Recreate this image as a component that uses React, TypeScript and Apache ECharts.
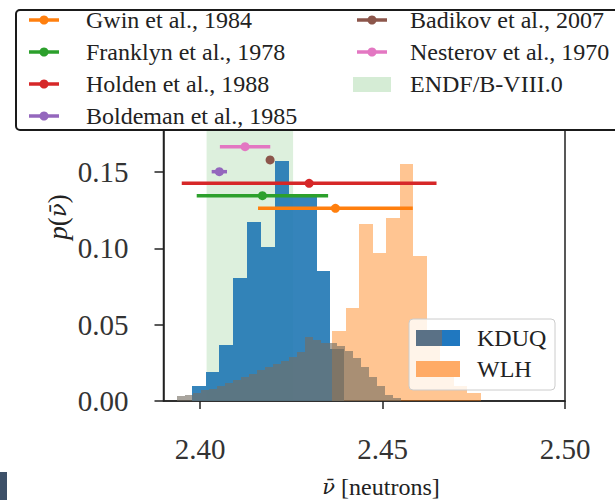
import React, { useEffect, useRef } from "react";
import * as echarts from "echarts";

// ---- axis ticks ----
const X_TICKS = [2.4, 2.45, 2.5];
const Y_TICKS = [0, 0.05, 0.1, 0.15];
const X_MIN = 2.39;
const X_MAX = 2.5;
const Y_MAX = 0.181;

// ---- KDUQ posterior histogram (blue) ----
const KDUQ_START = 2.39773;
const KDUQ_WIDTH = 0.0038;
const KDUQ_P = [0.0095, 0.019, 0.037, 0.0805, 0.1175, 0.101, 0.157, 0.135, 0.135, 0.085, 0.034];

// ---- WLH posterior histogram (orange) ----
const WLH_START = 2.4362;
const WLH_WIDTH = 0.0037;
const WLH_P = [0.046, 0.061, 0.116, 0.097, 0.12, 0.155, 0.095, 0.04, 0.02, 0.01, 0.005];

// ---- broad histogram (grey) ----
const BROAD_START = 2.3937;
const BROAD_WIDTH = 0.00219;
const BROAD_P = [
  0.003, 0.004, 0.005, 0.007, 0.008, 0.01, 0.012, 0.014, 0.016, 0.018, 0.02, 0.022, 0.024, 0.026,
  0.029, 0.032, 0.042, 0.04, 0.038, 0.038, 0.036, 0.033, 0.028, 0.022, 0.016, 0.01, 0.004, 0.002,
];

// ---- ENDF/B-VIII.0 band ----
const ENDF_RANGE = [2.4018, 2.4255];

// ---- experiments ----
const EXP_NAMES = [
  "Gwin et al., 1984",
  "Franklyn et al., 1978",
  "Holden et al., 1988",
  "Boldeman et al., 1985",
  "Badikov et al., 2007",
  "Nesterov et al., 1970",
];
const EXP_MEAN = [2.4371, 2.4171, 2.4299, 2.4053, 2.4192, 2.41235];
const EXP_ERR = [0.0212, 0.018, 0.0349, 0.0021, 0.0005, 0.0069];
const EXP_Y = [0.1262, 0.1345, 0.1426, 0.1502, 0.1579, 0.1666];
const EXP_COLORS = ["#ff7f0e", "#2ca02c", "#d62728", "#9467bd", "#8c564b", "#e377c2"];

const FONT = "Liberation Serif";
const MATH_FONT = "DejaVu Serif";

function histSeries(name: string, start: number, width: number, probs: number[], color: string, opacity: number, z: number) {
  return {
    type: "custom",
    name,
    z,
    clip: true,
    data: probs.map((p, i) => [start + i * width, start + (i + 1) * width, p]),
    encode: { x: [0, 1], y: 2 },
    renderItem: (params: any, api: any) => {
      const p0 = api.coord([api.value(0), api.value(2)]);
      const p1 = api.coord([api.value(1), 0]);
      const x0 = Math.round(p0[0]);
      const x1 = Math.round(p1[0]);
      const y0 = Math.round(p0[1]);
      const y1 = Math.round(p1[1]);
      return {
        type: "rect",
        shape: { x: x0, y: y0, width: x1 - x0, height: y1 - y0 },
        style: { fill: color, opacity },
      };
    },
  };
}

function expSeries(i: number) {
  return {
    type: "custom",
    name: EXP_NAMES[i],
    z: 10,
    data: [[EXP_MEAN[i], EXP_Y[i], EXP_ERR[i]]],
    encode: { x: 0, y: 1 },
    renderItem: (params: any, api: any) => {
      const m = api.value(0);
      const y = api.value(1);
      const e = api.value(2);
      const a = api.coord([m - e, y]);
      const b = api.coord([m + e, y]);
      const c = api.coord([m, y]);
      const color = EXP_COLORS[i];
      return {
        type: "group",
        children: [
          { type: "line", shape: { x1: a[0], y1: a[1], x2: b[0], y2: b[1] }, style: { stroke: color, lineWidth: 3.5 } },
          { type: "circle", shape: { cx: c[0], cy: c[1], r: 4.5 }, style: { fill: color } },
        ],
      };
    },
  };
}

function legendGraphics() {
  const els: any[] = [];
  els.push({
    type: "rect",
    z: 100,
    shape: { x: 16, y: 10, width: 620, height: 120, r: 4 },
    style: { fill: "#ffffff", stroke: "#1a1a1a", lineWidth: 2 },
  });
  const rowsY = [20, 52, 84, 116];
  const col = [
    { hx: 44, tx: 86 },
    { hx: 372, tx: 410 },
  ];
  EXP_NAMES.forEach((name, k) => {
    const c = k < 4 ? col[0] : col[1];
    const y = k < 4 ? rowsY[k] : rowsY[k - 4];
    els.push({ type: "line", z: 101, shape: { x1: c.hx - 15, y1: y, x2: c.hx + 15, y2: y }, style: { stroke: EXP_COLORS[k], lineWidth: 3.5 } });
    els.push({ type: "circle", z: 101, shape: { cx: c.hx, cy: y, r: 4.5 }, style: { fill: EXP_COLORS[k] } });
    els.push({
      type: "text",
      z: 101,
      x: c.tx,
      y,
      style: { text: name, fontFamily: FONT, fontSize: 24, fill: "#222", textVerticalAlign: "middle" },
    });
  });
  els.push({
    type: "rect",
    z: 101,
    shape: { x: 353, y: 77, width: 38, height: 15 },
    style: { fill: "rgba(44,160,44,0.2)" },
  });
  els.push({
    type: "text",
    z: 101,
    x: 410,
    y: 84,
    style: { text: "ENDF/B-VIII.0", fontFamily: FONT, fontSize: 24, fill: "#222", textVerticalAlign: "middle" },
  });

  // inner legend (KDUQ / WLH)
  els.push({
    type: "rect",
    z: 100,
    shape: { x: 409, y: 319, width: 146, height: 71, r: 4 },
    style: { fill: "rgba(255,255,255,0.8)", stroke: "#cccccc", lineWidth: 1 },
  });
  els.push({ type: "rect", z: 101, shape: { x: 416, y: 330, width: 26, height: 16 }, style: { fill: "#5a7186" } });
  els.push({ type: "rect", z: 101, shape: { x: 442, y: 330, width: 18, height: 16 }, style: { fill: "#2078c0" } });
  els.push({ type: "rect", z: 101, shape: { x: 416, y: 361, width: 44, height: 16 }, style: { fill: "#ffab66" } });
  els.push({ type: "text", z: 101, x: 477, y: 338, style: { text: "KDUQ", fontFamily: FONT, fontSize: 24, fill: "#222", textVerticalAlign: "middle" } });
  els.push({ type: "text", z: 101, x: 477, y: 369, style: { text: "WLH", fontFamily: FONT, fontSize: 24, fill: "#222", textVerticalAlign: "middle" } });

  // axis titles
  els.push({
    type: "text",
    z: 50,
    x: 58,
    y: 217,
    rotation: Math.PI / 2,
    style: {
      text: "{it|p}{rm|(}{nu|\u03BD\u0304}{rm|)}",
      fontFamily: FONT,
      fontSize: 27,
      fill: "#222",
      textAlign: "center",
      textVerticalAlign: "middle",
      rich: {
        it: { fontStyle: "italic", fontFamily: FONT, fontSize: 27, fill: "#222" },
        rm: { fontFamily: FONT, fontSize: 27, fill: "#222" },
        nu: { fontStyle: "italic", fontFamily: MATH_FONT, fontSize: 23, fill: "#222" },
      },
    },
  });
  els.push({
    type: "text",
    z: 50,
    x: 381,
    y: 487,
    style: {
      text: "{nu|\u03BD\u0304}{rm| [neutrons]}",
      fontFamily: FONT,
      fontSize: 24,
      fill: "#222",
      textAlign: "center",
      textVerticalAlign: "middle",
      rich: {
        nu: { fontStyle: "italic", fontFamily: MATH_FONT, fontSize: 21, fill: "#222" },
        rm: { fontFamily: FONT, fontSize: 24, fill: "#222" },
      },
    },
  });
  // corner artefact
  els.push({ type: "rect", z: 50, shape: { x: 0, y: 472, width: 7, height: 28 }, style: { fill: "#3d5068" } });
  return els;
}

export default function App() {
  const ref = useRef<HTMLDivElement>(null);
  useEffect(() => {
    if (!ref.current) return;
    const chart = echarts.init(ref.current, null, { renderer: "svg" });
    const axisLine = { show: true, onZero: false, lineStyle: { color: "#222", width: 1.5 } };
    chart.setOption({
      animation: false,
      backgroundColor: "#ffffff",
      grid: {
        left: 163.5,
        right: 50,
        top: 401 - Y_MAX * 1526.7,
        bottom: 99,
        show: true,
        borderColor: "#222",
        borderWidth: 1.5,
        backgroundColor: "transparent",
      },
      xAxis: {
        type: "value",
        min: X_MIN,
        max: X_MAX,
        axisLine,
        splitLine: { show: false },
        axisTick: { show: true, length: 8, customValues: X_TICKS, lineStyle: { color: "#222", width: 1.5 } },
        axisLabel: {
          customValues: X_TICKS,
          formatter: (v: number) => v.toFixed(2),
          margin: 33,
          fontSize: 29,
          fontFamily: FONT,
          color: "#333",
        },
      },
      yAxis: {
        type: "value",
        min: 0,
        max: Y_MAX,
        axisLine,
        splitLine: { show: false },
        axisTick: { show: true, length: 9, customValues: Y_TICKS, lineStyle: { color: "#222", width: 1.5 } },
        axisLabel: {
          customValues: Y_TICKS,
          formatter: (v: number) => v.toFixed(2),
          margin: 35,
          fontSize: 29,
          fontFamily: FONT,
          color: "#333",
        },
      },
      series: [
        {
          type: "line",
          name: "ENDF/B-VIII.0",
          z: 1,
          data: [],
          markArea: {
            silent: true,
            itemStyle: { color: "rgba(44,160,44,0.16)" },
            data: [[{ xAxis: ENDF_RANGE[0] }, { xAxis: ENDF_RANGE[1] }]],
          },
        },
        histSeries("KDUQ", KDUQ_START, KDUQ_WIDTH, KDUQ_P, "#1f77b4", 0.9, 2),
        histSeries("WLH", WLH_START, WLH_WIDTH, WLH_P, "#ff7f0e", 0.45, 3),
        histSeries("broad", BROAD_START, BROAD_WIDTH, BROAD_P, "#756d62", 0.62, 4),
        ...EXP_NAMES.map((_, i) => expSeries(i)),
      ],
      graphic: legendGraphics(),
    });
    return () => chart.dispose();
  }, []);
  return <div ref={ref} style={{ position: "fixed", left: 0, top: 0, width: 615, height: 500 }} />;
}
